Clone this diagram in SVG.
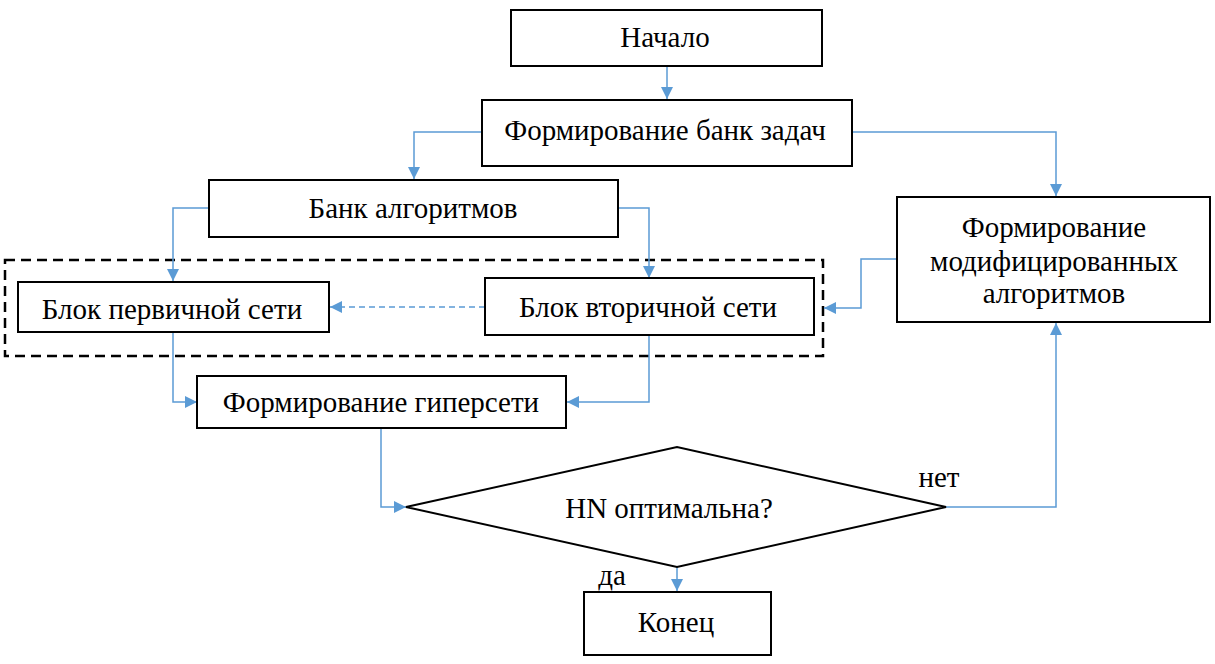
<svg xmlns="http://www.w3.org/2000/svg" width="1215" height="664" viewBox="0 0 1215 664">
<style>
.b{fill:#fff;stroke:#000;stroke-width:2}
.t{font-family:'Liberation Serif',serif;font-size:29px;fill:#000;text-anchor:middle}
.c{fill:none;stroke:#5B9BD5;stroke-width:1.5}
.d{stroke-dasharray:6 4}
</style>
<defs>
<marker id="a" viewBox="0 0 12 12" refX="12" refY="6" markerWidth="12" markerHeight="12" markerUnits="userSpaceOnUse" orient="auto">
<path d="M0,0 L12,6 L0,12 Z" fill="#5B9BD5"/>
</marker>
</defs>
<rect x="5" y="260" width="818" height="96" fill="none" stroke="#000" stroke-width="2.5" stroke-dasharray="10 6"/>
<g id="connectors">
<path class="c" d="M667,66 V99" marker-end="url(#a)"/>
<path class="c" d="M482,132 H414 V179" marker-end="url(#a)"/>
<path class="c" d="M852,132 H1056 V196" marker-end="url(#a)"/>
<path class="c" d="M209,208 H173 V281" marker-end="url(#a)"/>
<path class="c" d="M618,208 H649 V278" marker-end="url(#a)"/>
<path class="c d" d="M485,307 H330" marker-end="url(#a)"/>
<path class="c" d="M897,259 H861 V308 H824" marker-end="url(#a)"/>
<path class="c" d="M173,332 V402 H197" marker-end="url(#a)"/>
<path class="c" d="M649,335 V402 H567" marker-end="url(#a)"/>
<path class="c" d="M381,428 V507 H406" marker-end="url(#a)"/>
<path class="c" d="M946,507 H1056 V323" marker-end="url(#a)"/>
<path class="c" d="M677,567 V591" marker-end="url(#a)"/>
</g>
<g id="start"><rect class="b" x="511" y="10" width="311" height="56"/><text class="t" x="665" y="47">Начало</text></g>
<g id="bank-tasks"><rect class="b" x="482" y="100" width="370" height="66"/><text class="t" x="665" y="140">Формирование банк задач</text></g>
<g id="bank-alg"><rect class="b" x="209" y="180" width="409" height="57"/><text class="t" x="413" y="218">Банк алгоритмов</text></g>
<g id="primary"><rect class="b" x="18" y="282" width="311" height="50"/><text class="t" x="172" y="319">Блок первичной сети</text></g>
<g id="secondary"><rect class="b" x="485" y="278" width="329" height="57"/><text class="t" x="648" y="317">Блок вторичной сети</text></g>
<g id="modified"><rect class="b" x="897" y="197" width="313" height="125"/><text class="t" x="1054" y="237">Формирование</text><text class="t" x="1054" y="271">модифицированных</text><text class="t" x="1054" y="303">алгоритмов</text></g>
<g id="hyper"><rect class="b" x="197" y="376" width="369" height="52"/><text class="t" x="381" y="412">Формирование гиперсети</text></g>
<g id="decision"><polygon class="b" points="406,507 677,447 946,507 677,567"/><text class="t" x="669" y="518">HN оптимальна?</text></g>
<text class="t" x="939" y="487">нет</text>
<text class="t" x="612" y="585">да</text>
<g id="end"><rect class="b" x="584" y="592" width="187" height="63"/><text class="t" x="676" y="632">Конец</text></g>
</svg>
